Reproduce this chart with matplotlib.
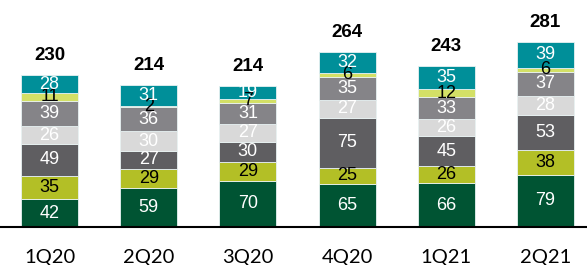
import numpy as np
import matplotlib.pyplot as plt

quarters = ['1Q20', '2Q20', '3Q20', '4Q20', '1Q21', '2Q21']
totals = [230, 214, 214, 264, 243, 281]

# segments, bottom to top
seg1 = [42, 59, 70, 65, 66, 79]
seg2 = [35, 29, 29, 25, 26, 38]
seg3 = [49, 27, 30, 75, 45, 53]
seg4 = [26, 30, 27, 27, 26, 28]
seg5 = [39, 36, 31, 35, 33, 37]
seg6 = [11, 2, 7, 6, 12, 6]
seg7 = [28, 31, 19, 32, 35, 39]

segments = [seg1, seg2, seg3, seg4, seg5, seg6, seg7]
colors = ['#005433', '#b3bf26', '#5f5e61', '#d9d9d9', '#858488', '#d3e066', '#008f99']
text_colors = ['white', 'black', 'white', 'white', 'white', 'black', 'white']

fig = plt.figure(figsize=(5.87, 2.65), dpi=100)
ax = fig.add_axes([0, 0.143, 1, 0.857])

x = np.arange(len(quarters))
bottom = np.zeros(len(quarters))
for vals, col, tcol in zip(segments, colors, text_colors):
    vals = np.array(vals, dtype=float)
    ax.bar(x, vals, 0.575, bottom=bottom, color=col, edgecolor='#e8f2f2', linewidth=0.6)
    for xi, b, v in zip(x, bottom, vals):
        ax.text(xi, b + v / 2, f'{int(v)}', ha='center', va='center',
                color=tcol, fontsize=13, family='Liberation Sans')
    bottom += vals

for xi, top, t in zip(x, bottom, totals):
    ax.annotate(f'{t}', (xi, top), xytext=(0, 8), textcoords='offset points',
                ha='center', va='bottom', fontsize=13.5, fontweight='bold',
                family='Liberation Sans')

ax.set_xlim(-0.5, 5.42)
ax.set_ylim(0, 343)
for s in ['top', 'right', 'left']:
    ax.spines[s].set_visible(False)
ax.spines['bottom'].set_linewidth(1.5)
ax.set_yticks([])
ax.set_xticks(x)
ax.set_xticklabels(quarters, fontsize=14.5, family='Lato')
ax.tick_params(axis='x', length=0, pad=16)

fig.savefig('out.png', dpi=100)
